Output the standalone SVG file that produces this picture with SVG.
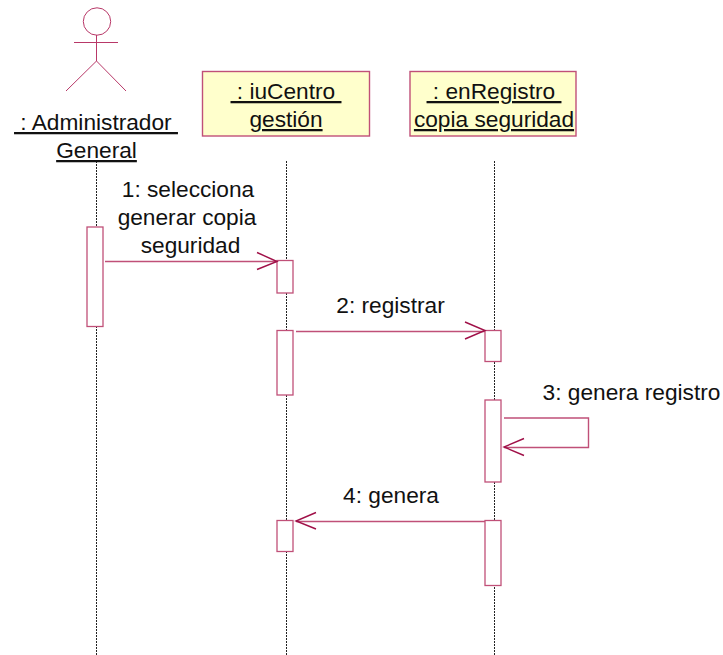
<svg xmlns="http://www.w3.org/2000/svg" width="723" height="655" viewBox="0 0 723 655">
<style>
text{font-family:"Liberation Sans",Arial,sans-serif;font-size:22.700px;fill:#111;text-anchor:middle;white-space:pre}
.u{text-decoration:underline}
.box{fill:#ffffcc;stroke:#c05078;stroke-width:1.4}
.act{fill:#fff;stroke:#c05078;stroke-width:1.300}
.life{stroke:#222;stroke-width:1;stroke-dasharray:2 1;fill:none}
.msg{stroke:#c05078;stroke-width:1.400;fill:none}
.head{stroke:#a01048;stroke-width:1.400;fill:none}
.actor{stroke:#b83868;stroke-width:1;fill:none}
</style>
<rect width="723" height="655" fill="#fff"/>
<g id="lifelines">
<path class="life" d="M96.500 161V655"/>
<path class="life" d="M286.500 161V655"/>
<path class="life" d="M494.500 161V655"/>
</g>
<g id="actor-admin">
<circle class="actor" cx="97" cy="21.500" r="13.700"/>
<path class="actor" d="M74 42.500H118M96.500 35V61M96.500 61L66 91M96.500 61L126 91"/>
<text class="u" x="96" y="130" xml:space="preserve"> : Administrador </text>
<text class="u" x="96.500" y="158">General</text>
</g>
<g id="obj-iucentro">
<rect class="box" x="202.500" y="71.500" width="167" height="64.500"/>
<text class="u" x="286" y="99" xml:space="preserve"> : iuCentro </text>
<text class="u" x="286" y="127">gestión</text>
</g>
<g id="obj-enregistro">
<rect class="box" x="410" y="71.500" width="166" height="64.500"/>
<text class="u" x="494" y="99" xml:space="preserve"> : enRegistro </text>
<text class="u" x="494" y="127">copia seguridad</text>
</g>
<g id="activations">
<rect class="act" x="87" y="227" width="16" height="99.500"/>
<rect class="act" x="277" y="260.500" width="16" height="32.500"/>
<rect class="act" x="277" y="330.500" width="16" height="64.500"/>
<rect class="act" x="485" y="330.500" width="16" height="31"/>
<rect class="act" x="485" y="400" width="16" height="82"/>
<rect class="act" x="485" y="520.500" width="16" height="65"/>
<rect class="act" x="277" y="520.500" width="16" height="31"/>
</g>
<g id="connectors">
<path class="msg" d="M105 261.500H277"/>
<path class="head" d="M257 252.500L277 261.500L257 269.500"/>
<path class="msg" d="M296 331.500H485"/>
<path class="head" d="M465 322L485 330.500L465 339"/>
<path class="msg" d="M504 418H588.500V447.500H504"/>
<path class="head" d="M524 438.500L504 447L524 455.500"/>
<path class="msg" d="M485 521.500H296"/>
<path class="head" d="M316 512.500L296 521L316 529"/>
</g>
<g id="labels">
<text x="188" y="197">1: selecciona</text>
<text x="187" y="225">generar copia</text>
<text x="190.500" y="253">seguridad</text>
<text x="390.500" y="313">2: registrar</text>
<text x="631.500" y="400">3: genera registro</text>
<text x="391" y="503">4: genera</text>
</g>
</svg>
